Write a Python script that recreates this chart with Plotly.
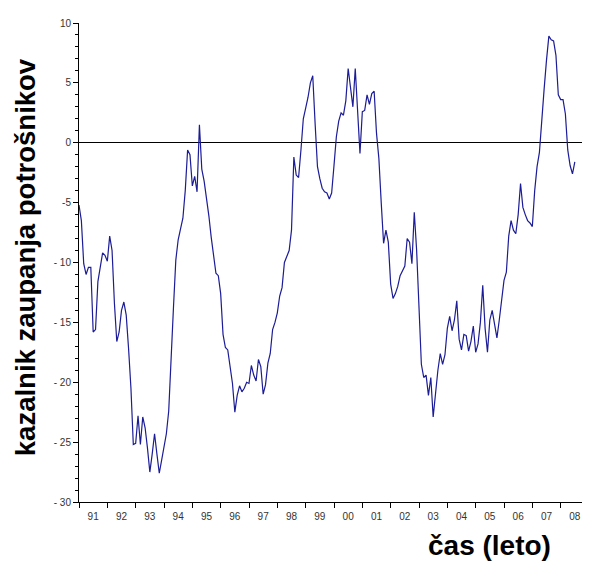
import plotly.graph_objects as go

# Monthly consumer-confidence indicator values, Jan 1991 - Jul 2008
y1991 = [-5.2, -6.5, -10.1, -11.0, -10.4, -10.4, -15.8, -15.6, -11.6, -10.2, -9.2, -9.4]
y1992 = [-9.9, -7.8, -9.0, -13.4, -16.6, -15.8, -14.0, -13.3, -14.4, -17.2, -20.5, -25.2]
y1993 = [-25.1, -22.8, -25.2, -22.9, -23.8, -25.5, -27.5, -26.0, -24.3, -26.0, -27.6, -26.5]
y1994 = [-25.2, -24.3, -22.4, -17.5, -13.8, -9.8, -8.1, -7.2, -6.3, -4.0, -0.6, -1.0]
y1995 = [-3.6, -2.8, -4.1, 1.5, -2.2, -3.2, -4.6, -6.1, -7.9, -9.5, -10.9, -11.1]
y1996 = [-12.6, -16.0, -17.1, -17.3, -18.6, -20.1, -22.5, -21.1, -20.3, -20.8, -20.5, -20.0]
y1997 = [-20.1, -18.6, -19.4, -19.9, -18.1, -18.7, -21.0, -20.2, -18.4, -17.6, -15.6, -15.0]
y1998 = [-14.2, -12.8, -12.1, -10.0, -9.5, -9.0, -7.3, -1.2, -2.7, -2.9, -0.6, 2.0]
y1999 = [2.9, 3.8, 5.0, 5.6, 1.6, -2.0, -3.0, -3.8, -4.1, -4.2, -4.7, -4.2]
y2000 = [-1.9, 0.5, 1.8, 2.5, 2.3, 3.5, 6.2, 4.3, 3.0, 6.2, 2.8, -0.9]
y2001 = [2.6, 2.7, 4.0, 3.2, 4.1, 4.3, 0.8, -1.3, -5.0, -8.4, -7.3, -8.3]
y2002 = [-11.8, -13.0, -12.6, -12.0, -11.1, -10.7, -10.3, -8.0, -8.3, -10.1, -5.8, -9.0]
y2003 = [-13.4, -18.5, -19.6, -19.4, -21.1, -19.6, -22.9, -20.6, -19.0, -17.6, -18.5, -17.7]
y2004 = [-15.5, -14.5, -15.7, -14.8, -13.2, -16.4, -17.3, -16.0, -16.1, -17.4, -16.6, -15.3]
y2005 = [-17.5, -16.8, -15.0, -11.9, -15.5, -17.5, -14.8, -14.0, -15.2, -16.3, -14.8, -13.1]
y2006 = [-11.5, -10.8, -7.8, -6.5, -7.3, -7.6, -6.0, -3.4, -5.4, -6.0, -6.5, -6.7]
y2007 = [-7.0, -4.0, -2.0, -0.8, 2.2, 4.5, 6.9, 8.9, 8.6, 8.5, 7.3, 4.0]
y2008 = [3.6, 3.6, 2.4, -0.6, -1.9, -2.6, -1.6]

start_year = 1991
year_labels = ["91", "92", "93", "94", "95", "96", "97", "98", "99", "00",
               "01", "02", "03", "04", "05", "06", "07", "08"]
y_tick_vals = [10, 5, 0, -5, -10, -15, -20, -25, -30]
y_tick_text = ["10", "5", "0", "-5", "- 10", "- 15", "- 20", "- 25", "- 30"]

values = (y1991 + y1992 + y1993 + y1994 + y1995 + y1996 + y1997 + y1998 + y1999 +
          y2000 + y2001 + y2002 + y2003 + y2004 + y2005 + y2006 + y2007 + y2008)
xs = [start_year + i / 12 for i in range(len(values))]

n_years = len(year_labels)
label_pos = [start_year + k + 0.5 for k in range(n_years)]
boundary_pos = [start_year + k for k in range(n_years + 1)]

FONT = "Liberation Sans, Arial, sans-serif"

fig = go.Figure()
fig.add_trace(go.Scatter(x=xs, y=values, mode="lines",
                         line=dict(color="#1c1c96", width=1.2),
                         showlegend=False, hoverinfo="skip"))

fig.update_layout(
    width=582, height=554,
    margin=dict(l=71, r=1, t=15, b=60),
    paper_bgcolor="white", plot_bgcolor="white",
    font=dict(family=FONT, size=10, color="#333333"),
    xaxis=dict(
        range=[start_year, start_year + n_years], showgrid=False, zeroline=False,
        showline=True, linecolor="black", linewidth=1,
        tickmode="array", tickvals=label_pos, ticktext=year_labels, ticks="",
        ticklabelstandoff=5,
        tickfont=dict(size=10, color="#333333", family=FONT),
        minor=dict(tickmode="array", tickvals=boundary_pos, ticks="outside",
                   ticklen=5, tickcolor="black", tickwidth=1, showgrid=False),
    ),
    yaxis=dict(
        range=[-30, 10], showgrid=False,
        zeroline=True, zerolinecolor="black", zerolinewidth=1,
        showline=True, linecolor="black", linewidth=1,
        tickmode="array", tickvals=y_tick_vals, ticktext=y_tick_text,
        ticks="outside", ticklen=5, tickcolor="black", tickwidth=1,
        tickfont=dict(size=10, color="#333333", family=FONT),
        minor=dict(dtick=1, ticks="outside", ticklen=3, tickcolor="black",
                   tickwidth=1, showgrid=False),
    ),
    annotations=[
        dict(text="<b>kazalnik zaupanja potrošnikov</b>", xref="paper", yref="paper",
             x=-0.106, y=0.511, xanchor="center", yanchor="middle", textangle=-90,
             showarrow=False, font=dict(family=FONT, size=27.5, color="black")),
        dict(text="<b>čas (leto)</b>", xref="paper", yref="paper",
             x=0.805, y=-0.091, xanchor="center", yanchor="middle",
             showarrow=False, font=dict(family=FONT, size=28, color="black")),
    ],
)

fig.write_html("out.html")
